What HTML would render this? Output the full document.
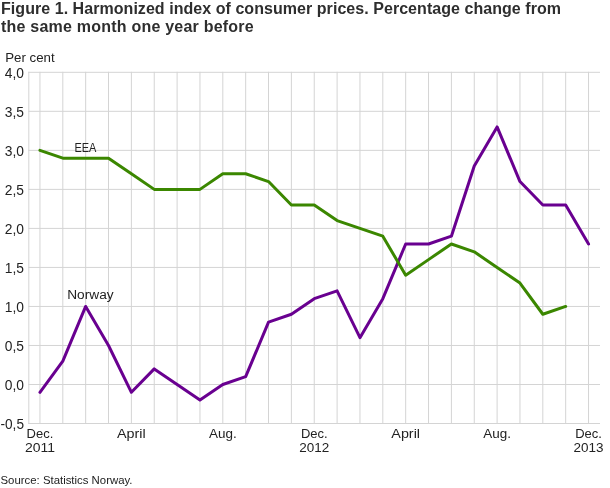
<!DOCTYPE html>
<html><head><meta charset="utf-8"><style>
html,body{margin:0;padding:0;background:#fff;width:610px;height:488px;overflow:hidden;position:relative}
.t{position:absolute;left:1px;top:0px;font-family:"Liberation Sans",sans-serif;font-weight:bold;font-size:16px;line-height:18px;letter-spacing:0.05px;color:#2e2e2e;white-space:nowrap}
</style></head><body>
<svg width="610" height="488" style="position:absolute;left:0;top:0">
<g stroke="#d4d4d4" stroke-width="1"><line x1="28.3" y1="72.300" x2="600" y2="72.300"/><line x1="28.3" y1="111.325" x2="600" y2="111.325"/><line x1="28.3" y1="150.350" x2="600" y2="150.350"/><line x1="28.3" y1="189.375" x2="600" y2="189.375"/><line x1="28.3" y1="228.400" x2="600" y2="228.400"/><line x1="28.3" y1="267.425" x2="600" y2="267.425"/><line x1="28.3" y1="306.450" x2="600" y2="306.450"/><line x1="28.3" y1="345.475" x2="600" y2="345.475"/><line x1="28.3" y1="384.500" x2="600" y2="384.500"/><line x1="28.3" y1="423.5" x2="600" y2="423.5"/><line x1="28.8" y1="71.8" x2="28.8" y2="424"/><line x1="39.950" y1="71.8" x2="39.950" y2="424"/><line x1="62.808" y1="71.8" x2="62.808" y2="424"/><line x1="85.666" y1="71.8" x2="85.666" y2="424"/><line x1="108.524" y1="71.8" x2="108.524" y2="424"/><line x1="131.382" y1="71.8" x2="131.382" y2="424"/><line x1="154.240" y1="71.8" x2="154.240" y2="424"/><line x1="177.098" y1="71.8" x2="177.098" y2="424"/><line x1="199.956" y1="71.8" x2="199.956" y2="424"/><line x1="222.814" y1="71.8" x2="222.814" y2="424"/><line x1="245.672" y1="71.8" x2="245.672" y2="424"/><line x1="268.530" y1="71.8" x2="268.530" y2="424"/><line x1="291.388" y1="71.8" x2="291.388" y2="424"/><line x1="314.246" y1="71.8" x2="314.246" y2="424"/><line x1="337.104" y1="71.8" x2="337.104" y2="424"/><line x1="359.962" y1="71.8" x2="359.962" y2="424"/><line x1="382.820" y1="71.8" x2="382.820" y2="424"/><line x1="405.678" y1="71.8" x2="405.678" y2="424"/><line x1="428.536" y1="71.8" x2="428.536" y2="424"/><line x1="451.394" y1="71.8" x2="451.394" y2="424"/><line x1="474.252" y1="71.8" x2="474.252" y2="424"/><line x1="497.110" y1="71.8" x2="497.110" y2="424"/><line x1="519.968" y1="71.8" x2="519.968" y2="424"/><line x1="542.826" y1="71.8" x2="542.826" y2="424"/><line x1="565.684" y1="71.8" x2="565.684" y2="424"/><line x1="588.542" y1="71.8" x2="588.542" y2="424"/></g>
<g fill="none" stroke-width="3" stroke-linejoin="round" stroke-linecap="round">
<path d="M39.95,392.30 L62.81,361.09 L85.67,306.45 L108.52,345.48 L131.38,392.30 L154.24,368.89 L177.10,384.50 L199.96,400.11 L222.81,384.50 L245.67,376.69 L268.53,322.06 L291.39,314.25 L314.25,298.64 L337.10,290.84 L359.96,337.67 L382.82,298.64 L405.68,244.01 L428.54,244.01 L451.39,236.20 L474.25,165.96 L497.11,126.94 L519.97,181.57 L542.83,204.99 L565.68,204.99 L588.54,244.01" stroke="#690090"/>
<path d="M39.95,150.35 L62.81,158.16 L85.67,158.16 L108.52,158.16 L131.38,173.76 L154.24,189.38 L177.10,189.38 L199.96,189.38 L222.81,173.76 L245.67,173.76 L268.53,181.57 L291.39,204.99 L314.25,204.99 L337.10,220.59 L359.96,228.40 L382.82,236.20 L405.68,275.23 L428.54,259.62 L451.39,244.01 L474.25,251.81 L497.11,267.43 L519.97,283.04 L542.83,314.25 L565.68,306.45" stroke="#3b8700"/>
</g>
<g font-family="Liberation Sans, sans-serif" fill="#222">
<text x="5.20" y="61.60" font-size="12.3" textLength="49.40" lengthAdjust="spacingAndGlyphs">Per cent</text><text x="4.80" y="77.70" font-size="14.3" textLength="19.20" lengthAdjust="spacingAndGlyphs">4,0</text><text x="4.80" y="116.72" font-size="14.3" textLength="19.20" lengthAdjust="spacingAndGlyphs">3,5</text><text x="4.80" y="155.75" font-size="14.3" textLength="19.20" lengthAdjust="spacingAndGlyphs">3,0</text><text x="4.80" y="194.78" font-size="14.3" textLength="19.20" lengthAdjust="spacingAndGlyphs">2,5</text><text x="4.80" y="233.80" font-size="14.3" textLength="19.20" lengthAdjust="spacingAndGlyphs">2,0</text><text x="4.80" y="272.82" font-size="14.3" textLength="19.20" lengthAdjust="spacingAndGlyphs">1,5</text><text x="4.80" y="311.85" font-size="14.3" textLength="19.20" lengthAdjust="spacingAndGlyphs">1,0</text><text x="4.80" y="350.88" font-size="14.3" textLength="19.20" lengthAdjust="spacingAndGlyphs">0,5</text><text x="4.80" y="389.90" font-size="14.3" textLength="19.20" lengthAdjust="spacingAndGlyphs">0,0</text><text x="0.50" y="428.92" font-size="14.3" textLength="23.50" lengthAdjust="spacingAndGlyphs">-0,5</text><text x="26.60" y="438.00" font-size="12.8" textLength="26.70" lengthAdjust="spacingAndGlyphs">Dec.</text><text x="24.95" y="452.20" font-size="12.8" textLength="30.00" lengthAdjust="spacingAndGlyphs">2011</text><text x="117.03" y="438.00" font-size="12.8" textLength="28.70" lengthAdjust="spacingAndGlyphs">April</text><text x="208.96" y="438.00" font-size="12.8" textLength="27.70" lengthAdjust="spacingAndGlyphs">Aug.</text><text x="300.90" y="438.00" font-size="12.8" textLength="26.70" lengthAdjust="spacingAndGlyphs">Dec.</text><text x="299.25" y="452.20" font-size="12.8" textLength="30.00" lengthAdjust="spacingAndGlyphs">2012</text><text x="391.33" y="438.00" font-size="12.8" textLength="28.70" lengthAdjust="spacingAndGlyphs">April</text><text x="483.26" y="438.00" font-size="12.8" textLength="27.70" lengthAdjust="spacingAndGlyphs">Aug.</text><text x="575.19" y="438.00" font-size="12.8" textLength="26.70" lengthAdjust="spacingAndGlyphs">Dec.</text><text x="573.54" y="452.20" font-size="12.8" textLength="30.00" lengthAdjust="spacingAndGlyphs">2013</text><text x="74.40" y="151.80" font-size="12.3" textLength="22.00" lengthAdjust="spacingAndGlyphs">EEA</text><text x="67.20" y="299.20" font-size="12.5" textLength="46.40" lengthAdjust="spacingAndGlyphs">Norway</text><text x="0.50" y="484.00" font-size="11" textLength="132.00" lengthAdjust="spacingAndGlyphs">Source: Statistics Norway.</text>
</g>
</svg>
<div class="t">Figure 1. Harmonized index of consumer prices. Percentage change from<br><span style="letter-spacing:0.22px">the same month one year before</span></div>
</body></html>
